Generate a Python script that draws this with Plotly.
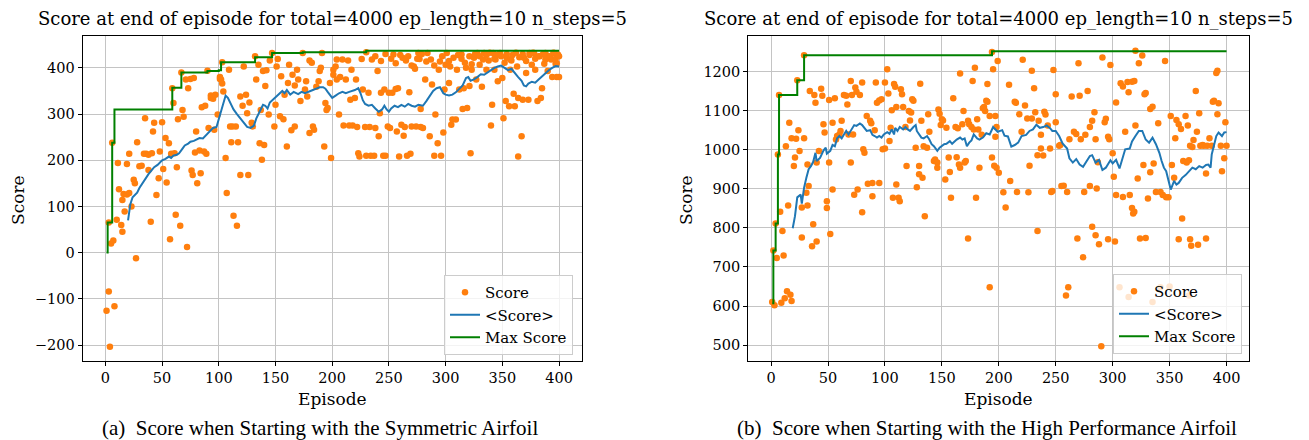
import plotly.graph_objects as go

# ---------------- Left panel (Symmetric Airfoil) ----------------
L_EP = [1, 3, 4, 8, 3, 5, 7, 6, 10, 11, 12, 14, 15, 15, 16, 17, 19, 19, 21, 21, 23, 25, 26, 27, 28, 30, 32, 34, 35, 36,
        38, 38, 40, 41, 42, 43, 45, 47, 48, 50, 51, 53, 54, 56, 57, 58, 59, 60, 61, 62, 63, 64, 66, 67, 68, 69, 71, 72, 73, 75,
        76, 77, 78, 79, 80, 81, 83, 84, 85, 87, 88, 89, 90, 91, 93, 93, 95, 96, 97, 99, 101, 101, 102, 103, 103, 104, 106, 107, 109, 110,
        111, 112, 113, 115, 116, 117, 119, 119, 121, 122, 124, 125, 126, 127, 129, 130, 132, 133, 135, 136, 137, 138, 139, 140, 141, 142, 144, 145, 147, 149,
        150, 151, 152, 154, 155, 157, 158, 160, 161, 162, 164, 165, 167, 167, 169, 170, 172, 174, 176, 177, 178, 180, 180, 182, 183, 184, 186, 188, 189, 190,
        191, 193, 194, 195, 196, 198, 199, 201, 201, 203, 204, 204, 206, 207, 209, 210, 212, 214, 215, 216, 217, 218, 220, 221, 222, 223, 224, 226, 227, 229,
        230, 230, 232, 233, 234, 235, 237, 238, 240, 241, 242, 243, 245, 246, 247, 249, 250, 251, 253, 254, 256, 257, 258, 259, 261, 262, 263, 264, 266, 267,
        268, 269, 270, 272, 273, 274, 276, 277, 278, 278, 280, 282, 283, 284, 286, 288, 290, 291, 293, 294, 295, 296, 298, 299, 300, 301, 303, 304, 305, 306,
        307, 309, 310, 312, 314, 315, 316, 317, 319, 321, 322, 323, 325, 327, 328, 330, 332, 334, 336, 338, 340, 341, 342, 343, 344, 346, 348, 350, 351, 352,
        353, 354, 356, 357, 358, 360, 361, 363, 364, 364, 367, 368, 369, 371, 373, 374, 376, 378, 379, 381, 383, 384, 385, 387, 388, 390, 390, 393, 394, 396,
        397, 398, 399, 400,
        238, 243, 247, 252, 256, 260, 265, 270, 275, 279, 287, 290, 297, 303, 311, 314, 318, 321, 323, 326, 330, 333, 336, 339, 343, 345, 349, 354, 357, 359,
        362, 365, 368, 371, 374, 377, 379, 382, 386, 388, 392, 395, 397, 398, 400]
L_SCORE = [-126, -84, -204, -116, 65, 20, 26, 238, 71, 194, 137, 60, 45, 114, 127, 89, 126, 192, 214, 129, 100, 158, 150, -12, 239, 187, 188, 214, 291, 214,
           212, 179, 67, 215, 262, 281, 125, 161, 219, 282, 181, 248, 152, 237, 29, 214, 356, 324, 215, 82, 185, 289, 58, 390, 309, 294, 375, 12, 356, 376,
           178, 168, 378, 217, 262, 150, 221, 172, 315, 219, 318, 214, 394, 270, 340, 335, 333, 266, 342, 299, 380, 376, 375, 412, 366, 349, 205, 129, 396, 273,
           239, 273, 80, 273, 58, 239, 338, 168, 318, 403, 342, 302, 168, 325, 281, 273, 425, 375, 407, 237, 309, 201, 393, 233, 361, 395, 299, 416, 432, 273,
           320, 403, 419, 295, 382, 289, 342, 230, 367, 407, 265, 385, 273, 362, 396, 375, 328, 432, 353, 371, 338, 416, 259, 411, 273, 266, 359, 371, 393, 400,
           432, 230, 324, 309, 313, 367, 205, 385, 396, 403, 418, 375, 299, 380, 418, 275, 375, 416, 275, 331, 396, 275, 335, 375, 272, 215, 208, 419, 353, 272,
           434, 210, 346, 272, 210, 418, 210, 270, 393, 252, 302, 346, 210, 353, 210, 273, 346, 270, 346, 429, 354, 262, 356, 208, 277, 422, 253, 272, 210, 425,
           347, 214, 273, 403, 398, 273, 432, 419, 311, 272, 270, 375, 414, 432, 252, 364, 210, 299, 237, 396, 414, 210, 260, 353, 407, 432, 367, 403, 277, 288,
           422, 288, 396, 353, 429, 311, 356, 411, 313, 361, 215, 396, 422, 375, 432, 407, 359, 432, 396, 416, 275, 320, 432, 396, 418, 371, 432, 378, 291, 411,
           328, 422, 317, 396, 416, 344, 317, 403, 208, 335, 252, 331, 422, 389, 331, 432, 407, 432, 396, 328, 425, 335, 356, 409, 432, 393, 425, 418, 380, 432,
           409, 380, 429, 380,
           425, 415, 430, 420, 410, 428, 416, 405, 420, 430, 418, 405, 425, 415, 428, 420, 400, 425, 408, 430, 425, 418, 428, 433, 420, 428, 425, 430, 418, 428,
           433, 423, 430, 415, 428, 433, 420, 425, 430, 418, 425, 433, 420, 410, 425]

L_AVG_EP = [20, 22, 24, 26, 28, 30, 32, 35, 38, 40, 43, 46, 50, 53, 56, 58, 60, 63, 65, 68, 70, 73, 75, 78, 80, 83, 86, 88, 90, 93,
            95, 98, 100, 102, 104, 106, 108, 110, 113, 116, 119, 122, 125, 128, 131, 133, 135, 137, 139, 141, 143, 145, 148, 150, 153, 156, 158, 160, 163, 166,
            170, 173, 176, 180, 183, 186, 189, 192, 194, 196, 198, 200, 203, 206, 209, 212, 215, 218, 220, 223, 225, 227, 229, 232, 235, 238, 241, 244, 246, 248,
            250, 252, 255, 258, 261, 264, 267, 270, 273, 276, 280, 283, 286, 289, 292, 295, 298, 300, 303, 306, 309, 312, 315, 318, 320, 322, 325, 328, 331, 334,
            337, 340, 343, 346, 349, 352, 355, 358, 361, 364, 367, 369, 371, 373, 376, 379, 382, 385, 388, 391, 394, 397, 400]
L_AVG = [70, 105, 120, 125, 130, 140, 148, 160, 170, 176, 185, 190, 200, 203, 208, 205, 210, 212, 215, 225, 232, 236, 240, 242, 245, 248, 247, 252, 258, 265,
         270, 272, 290, 305, 325, 340, 335, 325, 310, 300, 290, 280, 272, 270, 275, 290, 300, 310, 320, 318, 312, 325, 332, 338, 343, 350, 345, 352, 342, 348,
         343, 348, 345, 350, 352, 355, 358, 358, 355, 348, 340, 335, 340, 345, 348, 345, 348, 350, 352, 356, 345, 330, 322, 318, 320, 312, 305, 310, 318, 310,
         305, 312, 318, 315, 320, 316, 322, 318, 316, 320, 318, 328, 340, 350, 356, 358, 345, 342, 340, 342, 347, 355, 362, 378, 380, 372, 375, 380, 386, 385,
         390, 395, 400, 403, 405, 400, 395, 398, 388, 380, 372, 362, 360, 366, 370, 368, 375, 382, 388, 395, 400, 404, 403]

L_MAX_EP = [1, 2, 6, 8, 59, 67, 90, 100, 102, 132, 147, 174, 230, 400]
L_MAX = [0, 65, 238, 310, 357, 390, 393, 395, 412, 423, 432, 434, 437, 437]

# ---------------- Right panel (High Performance Airfoil) ----------------
R_EP = [1, 2, 3, 4, 5, 6, 7, 8, 9, 10, 11, 12, 13, 14, 15, 16, 17, 18, 18, 20, 21, 22, 23, 24, 25, 27, 27, 29, 29, 31,
        32, 32, 33, 34, 36, 37, 38, 39, 40, 40, 42, 44, 45, 46, 47, 49, 49, 51, 51, 52, 54, 54, 56, 57, 58, 60, 61, 62, 64, 66,
        67, 68, 70, 70, 71, 72, 73, 74, 75, 76, 78, 80, 80, 81, 82, 84, 85, 87, 88, 89, 89, 91, 92, 93, 95, 95, 97, 98, 100, 100,
        102, 103, 104, 105, 106, 107, 108, 109, 110, 110, 112, 113, 114, 115, 116, 118, 119, 121, 122, 123, 124, 125, 127, 128, 130, 130, 131, 132, 133, 134,
        135, 137, 138, 139, 143, 144, 146, 146, 147, 148, 149, 150, 151, 153, 154, 156, 157, 158, 160, 162, 163, 164, 165, 166, 166, 168, 169, 170, 171, 173,
        173, 174, 176, 177, 178, 179, 180, 181, 182, 183, 185, 186, 187, 188, 189, 190, 190, 192, 192, 194, 194, 195, 196, 197, 197, 198, 198, 199, 200, 204,
        206, 209, 210, 214, 215, 216, 218, 220, 221, 223, 225, 226, 227, 229, 229, 231, 232, 234, 234, 235, 237, 237, 239, 240, 241, 243, 245, 246, 247, 248,
        250, 250, 253, 254, 255, 257, 259, 260, 261, 262, 264, 266, 268, 269, 270, 271, 272, 274, 275, 276, 278, 280, 280, 282, 282, 284, 285, 285, 286, 287,
        288, 290, 291, 293, 294, 296, 296, 297, 298, 300, 301, 302, 303, 303, 306, 307, 309, 309, 311, 313, 314, 314, 315, 317, 317, 318, 319, 319, 320, 320,
        322, 323, 324, 326, 327, 328, 329, 329, 331, 333, 333, 335, 335, 336, 338, 340, 342, 342, 344, 346, 347, 349, 350, 351, 352, 354, 355, 356, 358, 358,
        360, 361, 362, 364, 365, 366, 367, 367, 368, 368, 369, 370, 371, 373, 374, 375, 376, 377, 379, 380, 382, 382, 383, 385, 387, 388, 389, 391, 392, 392,
        393, 395, 396, 398, 399, 400]
R_SCORE = [610, 742, 602, 811, 723, 988, 1140, 841, 608, 792, 729, 620, 1009, 638, 857, 1069, 629, 1029, 613, 958, 980, 1028, 1178, 1050, 997, 852, 775, 1029, 1242, 890,
           962, 857, 907, 1150, 753, 809, 1140, 1120, 967, 765, 997, 1156, 1138, 1065, 1044, 851, 868, 1127, 967, 784, 898, 1069, 1132, 1026, 1035, 1039, 1048, 1074, 1140, 1138,
           1116, 1039, 1176, 967, 1140, 1039, 885, 1159, 1148, 898, 1140, 1172, 840, 1001, 992, 1086, 913, 1074, 1068, 915, 881, 1050, 1172, 1120, 1126, 915, 1129, 1001, 1003, 1172,
           1206, 1144, 1022, 1056, 1101, 877, 1168, 1161, 1109, 911, 877, 868, 1155, 1142, 1109, 1058, 958, 1099, 1075, 1095, 1129, 1125, 1005, 904, 937, 958, 1169, 1074, 928, 1009,
           830, 1005, 1091, 1046, 971, 975, 967, 954, 1103, 1092, 1063, 1078, 1075, 924, 1056, 980, 943, 877, 1132, 1058, 981, 1055, 962, 954, 1195, 1065, 1099, 967, 971, 1074,
           773, 1065, 1058, 1176, 1052, 1210, 877, 1078, 1052, 954, 1038, 1106, 1109, 1099, 1125, 1168, 1123, 1086, 648, 1250, 980, 1206, 959, 1086, 1033, 1058, 954, 1227, 941, 891,
           852, 1166, 920, 1123, 1120, 892, 1091, 1046, 1230, 1113, 1080, 891, 959, 1202, 1080, 1157, 1096, 986, 792, 1074, 1038, 1003, 985, 1097, 1090, 1062, 1003, 892, 894, 1204,
           1070, 1142, 1010, 1012, 907, 908, 627, 892, 648, 1027, 1136, 1046, 1040, 773, 1221, 1138, 1027, 725, 892, 1038, 1150, 907, 1058, 1074, 803, 1096, 1027, 781, 901, 968,
           758, 497, 1236, 1070, 1079, 1033, 771, 1027, 1217, 991, 931, 765, 884, 1121, 648, 1170, 1162, 879, 1046, 1173, 1147, 623, 884, 1174, 851, 837, 1176, 841, 1062, 1253,
           926, 1221, 773, 1241, 961, 1142, 1145, 774, 875, 942, 1104, 1110, 610, 965, 892, 1068, 892, 648, 884, 1227, 878, 878, 650, 1086, 961, 928, 1029, 1076, 1065, 771,
           1053, 824, 971, 1086, 967, 1062, 973, 627, 1010, 771, 754, 1007, 1025, 1150, 1046, 757, 1093, 1010, 1012, 1010, 939, 773, 1010, 1029, 1010, 1123, 1125, 1196, 1202, 1091,
           1119, 1010, 945, 978, 1070, 1010]

R_AVG_EP = [19, 21, 23, 26, 27, 29, 31, 33, 35, 37, 39, 40, 43, 46, 48, 49, 52, 54, 56, 58, 60, 62, 64, 66, 68, 70, 71, 73, 75, 78,
            80, 82, 84, 87, 89, 91, 93, 95, 97, 99, 102, 104, 106, 108, 109, 111, 113, 116, 118, 120, 122, 125, 127, 128, 130, 132, 134, 137, 139, 141,
            143, 146, 148, 150, 152, 154, 157, 159, 161, 163, 166, 168, 170, 172, 174, 176, 178, 181, 183, 186, 189, 192, 195, 199, 203, 205, 208, 211, 214, 217,
            220, 224, 227, 230, 233, 236, 239, 242, 245, 247, 250, 253, 256, 260, 262, 265, 268, 271, 274, 277, 280, 282, 285, 288, 291, 294, 298, 300, 303, 306,
            309, 311, 315, 317, 320, 323, 326, 329, 332, 335, 338, 341, 343, 345, 347, 350, 351, 354, 356, 358, 361, 364, 367, 370, 373, 376, 379, 382, 384, 386,
            387, 389, 391, 393, 396, 398, 400]
R_AVG = [799, 830, 878, 885, 862, 903, 928, 950, 958, 969, 992, 971, 979, 998, 1005, 990, 997, 1012, 1009, 1029, 1035, 1029, 1039, 1048, 1039, 1048, 1056, 1063, 1061, 1067,
         1063, 1056, 1048, 1050, 1038, 1035, 1031, 1035, 1031, 1039, 1045, 1041, 1052, 1039, 1056, 1048, 1058, 1052, 1058, 1052, 1048, 1058, 1063, 1048, 1039, 1031, 1029, 1035, 1026, 1014,
         1009, 997, 1005, 1009, 1014, 1015, 1022, 1015, 1021, 1026, 1031, 1026, 1029, 1009, 1018, 1024, 1039, 1029, 1026, 1031, 1042, 1039, 1058, 1046, 1050, 1036, 1034, 1008, 1012, 1018,
         1035, 1038, 1048, 1052, 1064, 1056, 1058, 1062, 1055, 1048, 1048, 1035, 1016, 1003, 978, 967, 976, 962, 956, 971, 984, 986, 967, 974, 948, 954, 973, 965, 974, 952,
         978, 1001, 1003, 1021, 1035, 1048, 1048, 1026, 1018, 1031, 1014, 992, 971, 954, 945, 903, 898, 920, 911, 915, 928, 935, 944, 954, 950, 958, 954, 961, 962, 954,
         988, 1014, 1035, 1044, 1035, 1044, 1045]

R_MAX_EP = [1, 2, 4, 6, 7, 23, 29, 194, 400]
R_MAX = [607, 742, 811, 988, 1140, 1178, 1242, 1252, 1252]

# ---------------- Styling ----------------
ORANGE = "#ff7f0e"
BLUE = "#1f77b4"
GREEN = "#008000"
SERIF = "DejaVu Serif"
TITLE = "Score at end of episode for total=4000 ep_length=10 n_steps=5"

W, H = 1309, 440
def px(x):
    return x / W
def py(y):
    return 1 - y / H

L_DOM_X = [px(82.7), px(581.7)]
R_DOM_X = [px(748.3), px(1249.3)]
DOM_Y = [py(360.7), py(36)]

fig = go.Figure()

def add_panel(ep, score, aep, avg, mep, mx, xa, ya, leg):
    fig.add_trace(go.Scatter(x=ep, y=score, mode="markers", name="Score",
                             marker=dict(color=ORANGE, size=6.5, line=dict(width=0)),
                             xaxis=xa, yaxis=ya, legend=leg))
    fig.add_trace(go.Scatter(x=aep, y=avg, mode="lines", name="&lt;Score&gt;",
                             line=dict(color=BLUE, width=2), xaxis=xa, yaxis=ya, legend=leg))
    fig.add_trace(go.Scatter(x=mep, y=mx, mode="lines", name="Max Score", line_shape="hv",
                             line=dict(color=GREEN, width=2), xaxis=xa, yaxis=ya, legend=leg))

add_panel(L_EP, L_SCORE, L_AVG_EP, L_AVG, L_MAX_EP, L_MAX, "x", "y", "legend")
add_panel(R_EP, R_SCORE, R_AVG_EP, R_AVG, R_MAX_EP, R_MAX, "x2", "y2", "legend2")

axis_common = dict(showline=True, mirror=True, linecolor="black", linewidth=1.2,
                   showgrid=True, gridcolor="#c4c4c4", gridwidth=1.2,
                   ticks="outside", ticklen=4, tickwidth=1, tickcolor="black",
                   zeroline=False, tickfont=dict(family=SERIF, size=14.5, color="black"))

legend_common = dict(bgcolor="rgba(255,255,255,0.8)", bordercolor="#cccccc", borderwidth=1,
                     font=dict(family=SERIF, size=15, color="black"),
                     xanchor="right", yanchor="bottom", tracegroupgap=0, itemwidth=30)

fig.update_layout(
    width=W, height=H, margin=dict(l=0, r=0, t=0, b=0),
    paper_bgcolor="white", plot_bgcolor="white",
    font=dict(family=SERIF, color="black"),
    xaxis=dict(domain=L_DOM_X, range=[-20, 420], tickvals=list(range(0, 401, 50)), anchor="y", **axis_common),
    yaxis=dict(domain=DOM_Y, range=[-234, 469], tickvals=list(range(-200, 401, 100)), anchor="x", **axis_common),
    xaxis2=dict(domain=R_DOM_X, range=[-20, 420], tickvals=list(range(0, 401, 50)), anchor="y2", **axis_common),
    yaxis2=dict(domain=DOM_Y, range=[460, 1291], tickvals=list(range(500, 1201, 100)), anchor="x2", **axis_common),
    legend=dict(x=px(573), y=py(355), **legend_common),
    legend2=dict(x=px(1242), y=py(354), **legend_common),
    showlegend=True,
)

ann = []
for cx, cap, ylx in [((82.7 + 581.7) / 2, "(a)  Score when Starting with the Symmetric Airfoil", 18),
                     ((748.3 + 1249.3) / 2, "(b)  Score when Starting with the High Performance Airfoil", 686)]:
    ann.append(dict(x=px(cx), y=py(19), text=TITLE, showarrow=False, xref="paper", yref="paper",
                    xanchor="center", yanchor="middle", font=dict(family=SERIF, size=18, color="black")))
    ann.append(dict(x=px(cx), y=py(399), text="Episode", showarrow=False, xref="paper", yref="paper",
                    xanchor="center", yanchor="middle", font=dict(family=SERIF, size=17, color="black")))
    ann.append(dict(x=px(ylx), y=py(200), text="Score", showarrow=False, xref="paper", yref="paper", textangle=-90,
                    xanchor="center", yanchor="middle", font=dict(family=SERIF, size=17, color="black")))
    ann.append(dict(x=px(cx - 12), y=py(428), text=cap, showarrow=False, xref="paper", yref="paper",
                    xanchor="center", yanchor="middle", font=dict(family="Liberation Serif", size=21, color="black")))
fig.update_layout(annotations=ann)

fig.write_html("out.html")
